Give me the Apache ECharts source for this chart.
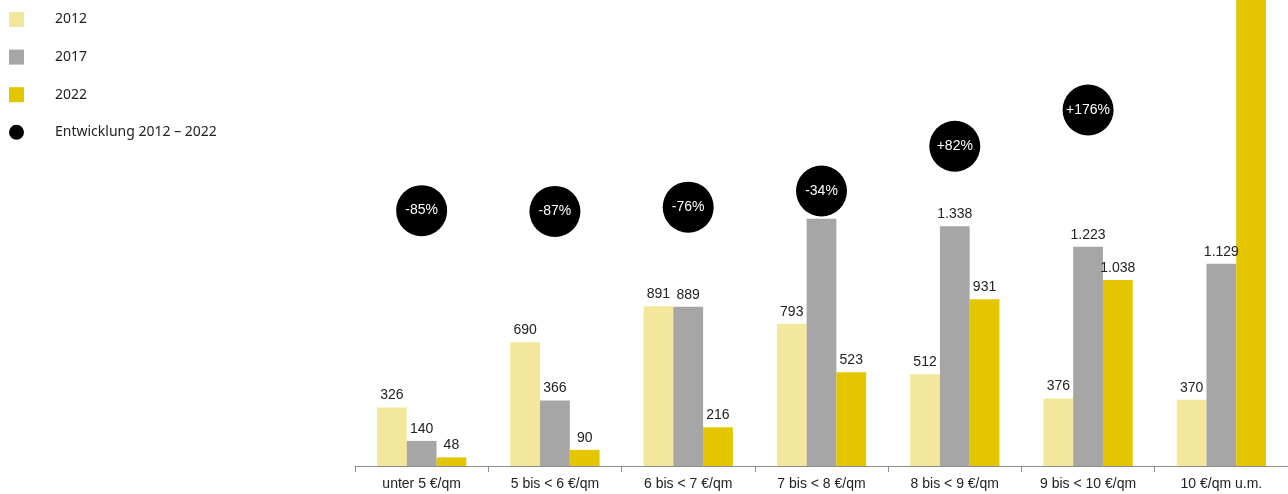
<!DOCTYPE html>
<html>
<head>
<meta charset="utf-8">
<script src="https://cdn.jsdelivr.net/npm/echarts@6/dist/echarts.min.js"></script>
<style>
html,body{margin:0;padding:0;background:#fff;}
#chart{width:1288px;height:494px;}
</style>
</head>
<body>
<div id="chart"></div>
<script>
const categories = ['unter 5 €/qm', '5 bis < 6 €/qm', '6 bis < 7 €/qm', '7 bis < 8 €/qm', '8 bis < 9 €/qm', '9 bis < 10 €/qm', '10 €/qm u.m.'];
const values2012 = [326, 690, 891, 793, 512, 376, 370];
const values2017 = [140, 366, 889, 1380, 1338, 1223, 1129];
const values2022 = [48, 90, 216, 523, 931, 1038, 2750];
const changePct = [-85, -87, -76, -34, 82, 176, null];
const seriesNames = ['2012', '2017', '2022', 'Entwicklung 2012 – 2022'];

const colors = ['#F3E79C', '#A6A6A6', '#E3C500', '#000000'];
const labelFont = '"Liberation Sans", Arial, sans-serif';
function de(v){ return String(v).replace(/\B(?=(\d{3})+(?!\d))/g, '.'); }

const barLabel = {
  show: true, position: 'top', distance: 5,
  fontFamily: labelFont, fontSize: 14, color: '#222',
  formatter: p => de(p.value)
};

const chart = echarts.init(document.getElementById('chart'), null, {renderer: 'canvas'});
chart.setOption({
  animation: false,
  color: colors,
  legend: {
    orient: 'vertical', left: 9, top: 12, padding: 0,
    itemWidth: 15, itemHeight: 15, itemGap: 22.6,
    textStyle: { fontFamily: '"Noto Sans", sans-serif', fontSize: 14, color: '#222', padding: [0, 0, 0, 26] },
    data: [
      {name: seriesNames[0], icon: 'rect'},
      {name: seriesNames[1], icon: 'rect'},
      {name: seriesNames[2], icon: 'rect'},
      {name: seriesNames[3], icon: 'circle'}
    ]
  },
  grid: { left: 355, right: 0, top: 0, bottom: 28, containLabel: false },
  xAxis: {
    type: 'category', data: categories,
    axisLine: { lineStyle: { color: '#8c8c8c', width: 1 } },
    axisTick: { show: true, length: 6, lineStyle: { color: '#8c8c8c' } },
    axisLabel: { interval: 0, fontFamily: labelFont, fontSize: 14, color: '#222', margin: 11 }
  },
  yAxis: [
    { type: 'value', min: 0, max: 2600, show: false, splitLine: {show: false} },
    { type: 'value', min: -747, max: 461, show: false, splitLine: {show: false} }
  ],
  series: [
    { name: seriesNames[0], type: 'bar', data: values2012, barGap: '0%', barCategoryGap: '33%', label: barLabel },
    { name: seriesNames[1], type: 'bar', data: values2017, label: barLabel },
    { name: seriesNames[2], type: 'bar', data: values2022.map((v, i) => i === values2022.length - 1 ? {value: v, label: {show: false}} : v), label: barLabel },
    { name: seriesNames[3], type: 'scatter', yAxisIndex: 1, symbol: 'circle', symbolSize: 51, z: 5,
      itemStyle: { color: '#000', opacity: 1 },
      data: changePct,
      label: { show: true, position: 'inside', fontFamily: labelFont, fontSize: 14, color: '#fff',
        formatter: p => (p.value > 0 ? '+' : '') + p.value + '%' } }
  ]
});
</script>
</body>
</html>
